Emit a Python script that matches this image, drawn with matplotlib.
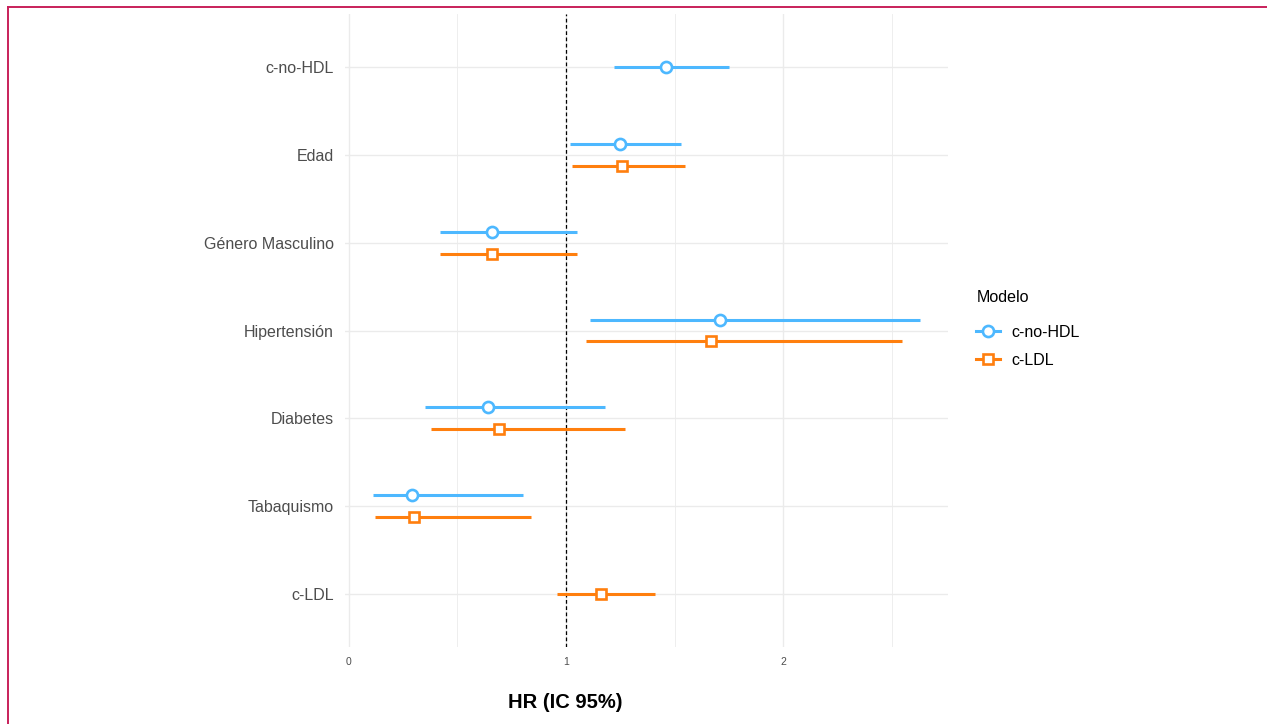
import matplotlib.pyplot as plt
from matplotlib.lines import Line2D

# ---------------------------
# Data (HR and 95% CI per model)
# ---------------------------
categories = ["c-no-HDL", "Edad", "Género Masculino", "Hipertensión",
              "Diabetes", "Tabaquismo", "c-LDL"]

nohdl_vars = ["c-no-HDL", "Edad", "Género Masculino", "Hipertensión", "Diabetes", "Tabaquismo"]
nohdl_hr = [1.46, 1.25, 0.66, 1.71, 0.64, 0.29]
nohdl_lo = [1.22, 1.02, 0.42, 1.11, 0.35, 0.11]
nohdl_hi = [1.75, 1.53, 1.05, 2.63, 1.18, 0.80]

ldl_vars = ["Edad", "Género Masculino", "Hipertensión", "Diabetes", "Tabaquismo", "c-LDL"]
ldl_hr = [1.26, 0.66, 1.67, 0.69, 0.30, 1.16]
ldl_lo = [1.03, 0.42, 1.09, 0.38, 0.12, 0.96]
ldl_hi = [1.55, 1.05, 2.55, 1.27, 0.84, 1.41]

x_ticks = [0, 1, 2]
x_minor = [0.5, 1.5, 2.5]

BLUE = "#4DB8FF"
ORANGE = "#FF7F0E"
GRID = "#EBEBEB"

plt.rcParams["font.family"] = ["Liberation Sans", "DejaVu Sans"]

fig = plt.figure(figsize=(12.67, 7.24), dpi=100)
ax = fig.add_axes([345 / 1267, 1 - 647 / 724, (948 - 345) / 1267, (647 - 14) / 724])

ypos = {c: i for i, c in enumerate(categories)}
both = set(nohdl_vars) & set(ldl_vars)
dodge = 0.125


def draw(vars_, hr, lo, hi, color, marker, ms, offset):
    ys = [ypos[v] + (offset if v in both else 0) for v in vars_]
    ax.hlines(ys, lo, hi, color=color, lw=2.2, zorder=3)
    ax.plot(hr, ys, ls="none", marker=marker, ms=ms, mfc="white", mec=color,
            mew=1.9, zorder=4)


draw(nohdl_vars, nohdl_hr, nohdl_lo, nohdl_hi, BLUE, "o", 8, -dodge)
draw(ldl_vars, ldl_hr, ldl_lo, ldl_hi, ORANGE, "s", 7.2, dodge)

ax.axvline(1, color="black", ls=(0, (3, 2)), lw=0.9, zorder=2)

# axes styling (minimal theme)
ax.set_xlim(-0.018, 2.76)
ax.set_ylim(len(categories) - 1 + 0.6, -0.6)
ax.set_yticks(range(len(categories)))
ax.set_yticklabels(categories, fontsize=11.5, color="#4D4D4D")
ax.set_xticks(x_ticks)
ax.set_xticks(x_minor, minor=True)
ax.set_xticklabels([str(t) for t in x_ticks], fontsize=7.5, color="#4D4D4D")
ax.tick_params(axis="both", which="both", length=0)
ax.tick_params(axis="y", pad=8)
ax.tick_params(axis="x", pad=7)
for s in ax.spines.values():
    s.set_visible(False)
ax.grid(True, which="major", color=GRID, lw=1.0, zorder=0)
ax.grid(True, which="minor", axis="x", color=GRID, lw=0.6, zorder=0)
ax.set_axisbelow(True)

fig.text(565 / 1267, 1 - 702 / 724, "HR (IC 95%)", ha="center", va="center",
         fontsize=14.5, fontweight="bold", color="black")

# legend
handles = [
    Line2D([], [], color=BLUE, lw=2.2, marker="o", ms=8, mfc="white", mec=BLUE, mew=1.9),
    Line2D([], [], color=ORANGE, lw=2.2, marker="s", ms=7.2, mfc="white", mec=ORANGE, mew=1.9),
]
leg = fig.legend(handles, ["c-no-HDL", "c-LDL"], title="Modelo",
                 loc="upper left", bbox_to_anchor=(962 / 1267, 1 - 276 / 724),
                 frameon=False, fontsize=11.5, title_fontsize=11.5,
                 handlelength=1.5, handletextpad=0.7, labelspacing=0.8)
leg._legend_box.align = "left"
leg._legend_box.sep = 14

# outer border (left and top edges)
fig.add_artist(Line2D([8 / 1267, 8 / 1267], [0, 1 - 7 / 724], transform=fig.transFigure,
                      color="#C8205A", lw=1.4))
fig.add_artist(Line2D([8 / 1267, 1], [1 - 7 / 724, 1 - 7 / 724], transform=fig.transFigure,
                      color="#C8205A", lw=1.4))

fig.savefig("out.png", dpi=100, facecolor="white")
